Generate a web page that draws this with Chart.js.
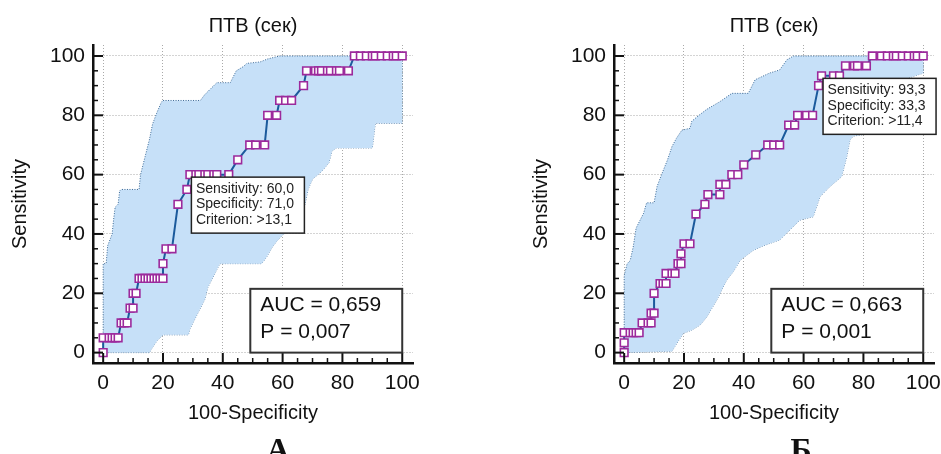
<!DOCTYPE html>
<html lang="ru">
<head>
<meta charset="UTF-8">
<title>ROC ПТВ (сек)</title>
<script src="https://cdn.jsdelivr.net/npm/chart.js"></script>
<style>
    body { margin: 0; background: #fff; width: 941px; height: 454px; overflow: hidden; position: relative; }
    .panel { position: absolute; top: 0; height: 454px; }
    #panelA { left: 0; width: 470px; }
    #panelB { left: 470px; width: 471px; }
</style>
</head>
<body>
<div class="panel" id="panelA"><canvas id="chartA" width="470" height="454"></canvas></div>
<div class="panel" id="panelB"><canvas id="chartB" width="471" height="454"></canvas></div>

<script>
// --- data ---
const axisTicks = [0, 20, 40, 60, 80, 100];
const chartTitle = 'ПТВ (сек)';
const xTitle = '100-Specificity';
const yTitle = 'Sensitivity';

// panel A: ROC points (100-Specificity, Sensitivity)
const rocAx = [0, 0, 2, 3, 4, 5, 6, 7, 8, 9, 10, 10, 11, 12, 13, 14, 15, 16, 17, 18, 19, 20, 20, 21, 23, 25, 28,
    29, 31, 32, 34, 35, 37, 38, 42, 45, 49, 51, 54, 55, 58, 59, 61, 63, 67,
    68, 71, 72, 73, 75, 76, 78, 79, 82, 84, 86, 88, 90, 91, 93, 95, 97, 98, 100];
const rocAy = [0, 5, 5, 5, 5, 5, 10, 10, 10, 15, 15, 20, 20, 25, 25, 25, 25, 25, 25, 25, 25, 25, 30, 35, 35, 50, 55,
    60, 60, 60, 60, 60, 60, 60, 60, 65, 70, 70, 70, 80, 80, 85, 85, 85, 90,
    95, 95, 95, 95, 95, 95, 95, 95, 95, 100, 100, 100, 100, 100, 100, 100, 100, 100, 100];
// panel A: confidence band
const upperAx = [0, 0, 1, 1.5, 3, 3.5, 4, 5, 5.5, 6, 12, 12.5, 14, 15.5, 16.5, 18, 19.5, 20, 32.5, 34, 36, 38, 42.5, 44.5, 47, 48, 52.5, 55, 59, 100];
const upperAy = [0, 30, 30, 36, 40, 45, 49, 50, 54.5, 55, 55, 60, 66, 72, 77, 81, 84.5, 85, 85, 87, 89, 91, 91, 95, 96.5, 97.5, 98, 99, 100, 100];
const lowerAx = [0, 15.5, 16, 18, 20, 28.5, 29, 30.5, 32, 34, 35, 37, 39, 53, 54.5, 56.5, 58, 60, 62, 64, 66, 67.5, 68.5, 70, 73, 75.5, 76.5, 78, 90, 91, 100, 100];
const lowerAy = [0, 0, 1, 4, 6, 6, 8, 11, 14, 18, 22, 26, 30, 30, 32, 35.5, 37.5, 39.7, 41, 44, 47, 50, 55, 58.5, 61, 64, 68, 69, 69, 77.3, 77.3, 100];
const critA = { x: 29, y: 60, lines: ['Sensitivity: 60,0', 'Specificity: 71,0', 'Criterion: >13,1'] };
const statsA = ['AUC = 0,659', 'P = 0,007'];

// panel B
const rocBx = [0, 0, 0, 2, 3, 4, 5, 6, 8, 9, 9, 10, 10, 12, 13, 14, 14, 16, 17, 18, 19, 19, 20, 22, 24, 27, 28, 32,
    32, 34, 36, 38, 40, 44, 48, 50, 52, 55, 57, 58, 61, 63, 65, 66, 70, 72, 74, 77, 78, 81,
    83, 86, 88, 90, 91, 93, 95, 97, 98, 100];
const rocBy = [0, 3.3, 6.7, 6.7, 6.7, 6.7, 6.7, 10, 10, 10, 13.3, 13.3, 20, 23.3, 23.3, 23.3, 26.7, 26.7, 26.7, 30, 30, 33.3, 36.7, 36.7, 46.7, 50, 53.3, 53.3,
    56.7, 56.7, 60, 60, 63.3, 66.7, 70, 70, 70, 76.7, 76.7, 80, 80, 80, 90, 93.3, 93.3, 93.3, 96.7, 96.7, 96.7, 96.7,
    100, 100, 100, 100, 100, 100, 100, 100, 100, 100];
const upperBx = [0, 0, 1, 2, 3, 4, 5, 6.5, 7.5, 10, 11, 12.5, 14.5, 16, 17.5, 19.3, 22, 22.6, 25, 27.6, 32, 36, 41.5, 43.8, 46, 48.5, 52, 54.4, 56.6, 100];
const upperBy = [0, 26, 30, 31, 35.5, 42, 44, 47, 50.5, 50.5, 56, 60, 65, 69.5, 72.3, 75, 75.6, 78, 80, 82, 84.6, 87.4, 87.4, 92, 93, 94.2, 95.3, 98.7, 100, 100];
const lowerBx = [0, 16, 17.5, 19.8, 22.6, 25.4, 27.6, 31, 34.3, 36.5, 38.8, 43.2, 46.5, 52, 58.8, 63.2, 65.5, 68.8, 72.7, 74.4, 75.5, 76.6, 80, 84, 88, 93, 100, 100];
const lowerBy = [0, 0.5, 3, 6.5, 7.6, 9.3, 12, 17.8, 24.5, 27.3, 31.2, 34.5, 36, 38, 44.7, 45.8, 52.6, 56, 59.3, 66, 71.7, 73, 73.5, 82, 88, 92, 94.2, 100];
const critB = { x: 66, y: 93.3, lines: ['Sensitivity: 93,3', 'Specificity: 33,3', 'Criterion: >11,4'] };
const statsB = ['AUC = 0,663', 'P = 0,001'];

const zip = (xs, ys) => xs.map((v, i) => ({ x: v, y: ys[i] }));
const FONT = '"Liberation Sans", Arial, sans-serif';

// inward ticks, title, boxes and panel letter
const decor = {
    id: 'decor',
    afterDraw(chart, args, o) {
        const { ctx, chartArea: a, scales: { x, y } } = chart;
        ctx.save();
        ctx.strokeStyle = '#111';
        for (let v = 0; v <= 100; v += 5) {
            const major = v % 20 === 0;
            const len = major ? 10 : 5;
            ctx.lineWidth = major ? 2 : 1.5;
            const px = x.getPixelForValue(v);
            ctx.beginPath(); ctx.moveTo(px, a.bottom); ctx.lineTo(px, a.bottom - len); ctx.stroke();
            const py = y.getPixelForValue(v);
            ctx.beginPath(); ctx.moveTo(a.left, py); ctx.lineTo(a.left + len, py); ctx.stroke();
        }

        ctx.fillStyle = '#111';
        ctx.font = '20px ' + FONT;
        ctx.textAlign = 'center';
        ctx.textBaseline = 'middle';
        ctx.fillText(chartTitle, (a.left + a.right) / 2, 26);

        // criterion box
        const cx = x.getPixelForValue(o.crit.x) + 1.5;
        const cy = y.getPixelForValue(o.crit.y) + 2.5;
        ctx.fillStyle = '#fff';
        ctx.fillRect(cx, cy, 113, 56);
        ctx.lineWidth = 1.5;
        ctx.strokeStyle = '#222';
        ctx.strokeRect(cx, cy, 113, 56);
        ctx.fillStyle = '#222';
        ctx.font = '14px ' + FONT;
        ctx.textAlign = 'left';
        o.crit.lines.forEach((t, i) => ctx.fillText(t, cx + 4.5, cy + 12 + i * 15.5));

        // AUC box
        const bx = x.getPixelForValue(49.2), bx2 = x.getPixelForValue(100);
        const by = y.getPixelForValue(21.5), by2 = y.getPixelForValue(0);
        ctx.fillStyle = '#fff';
        ctx.fillRect(bx, by, bx2 - bx, by2 - by);
        ctx.lineWidth = 2;
        ctx.strokeStyle = '#333';
        ctx.strokeRect(bx, by, bx2 - bx, by2 - by);
        ctx.fillStyle = '#111';
        ctx.font = '21px ' + FONT;
        o.stats.forEach((t, i) => ctx.fillText(t, bx + 10, by + 16 + i * 27));

        // panel letter
        ctx.font = 'bold 32px "Liberation Serif", "Times New Roman", serif';
        ctx.textAlign = 'center';
        ctx.textBaseline = 'alphabetic';
        ctx.fillText(o.letter, (a.left + a.right) / 2 + o.letterShift, 460);
        ctx.restore();
    }
};

function makeChart(id, roc, upper, lower, crit, stats, letter, padL, padR, letterShift) {
    const setTicks = s => { s.ticks = axisTicks.map(v => ({ value: v })); };
    const common = {
        type: 'linear',
        afterBuildTicks: setTicks,
        grid: { color: '#a9a9a9', lineWidth: 1, drawTicks: false },
        border: { color: '#111', width: 2.5, dash: [1, 2] },
        ticks: { color: '#111', font: { family: FONT, size: 21 } },
        title: { display: true, color: '#111', font: { family: FONT, size: 20 } }
    };
    return new Chart(document.getElementById(id), {
        type: 'line',
        data: {
            datasets: [
                {
                    data: roc, borderColor: '#1b5a9c', borderWidth: 2, tension: 0,
                    pointStyle: 'rect', pointRadius: 5.4, pointBorderWidth: 1.6,
                    pointBorderColor: '#9c2a9c', pointBackgroundColor: '#fff', order: 0
                },
                {
                    data: upper, borderColor: '#3d6a96', borderWidth: 1, borderDash: [1, 1.5],
                    pointRadius: 0, fill: '+1', backgroundColor: '#c6e0f8', order: 1
                },
                {
                    data: lower, borderColor: '#3d6a96', borderWidth: 1, borderDash: [1, 1.5],
                    pointRadius: 0, fill: false, order: 2
                }
            ]
        },
        options: {
            responsive: false,
            animation: false,
            layout: { autoPadding: false, padding: { left: padL, right: padR, top: 45, bottom: 29 } },
            plugins: {
                legend: { display: false },
                tooltip: { enabled: false },
                decor: { crit, stats, letter, letterShift }
            },
            scales: {
                x: Object.assign({}, common, {
                    min: -3.4, max: 103.6,
                    ticks: Object.assign({}, common.ticks, { padding: 8, maxRotation: 0 }),
                    title: Object.assign({}, common.title, { text: xTitle, padding: { top: 0, bottom: 0 } }),
                    afterFit: s => { s.height = 62; s.paddingLeft = 0; s.paddingRight = 0; }
                }),
                y: Object.assign({}, common, {
                    min: -3.5, max: 103.7,
                    ticks: Object.assign({}, common.ticks, { padding: 8 }),
                    title: Object.assign({}, common.title, { text: yTitle, padding: { top: 8, bottom: 0 } }),
                    afterFit: s => { s.width = 93; s.paddingTop = 0; s.paddingBottom = 0; }
                })
            }
        },
        plugins: [decor]
    });
}

makeChart('chartA', zip(rocAx, rocAy), zip(upperAx, upperAy), zip(lowerAx, lowerAy), critA, statsA, 'А', 0, 57, 25);
makeChart('chartB', zip(rocBx, rocBy), zip(upperBx, upperBy), zip(lowerBx, lowerBy), critB, statsB, 'Б', 51, 7, 27);
</script>
</body>
</html>
